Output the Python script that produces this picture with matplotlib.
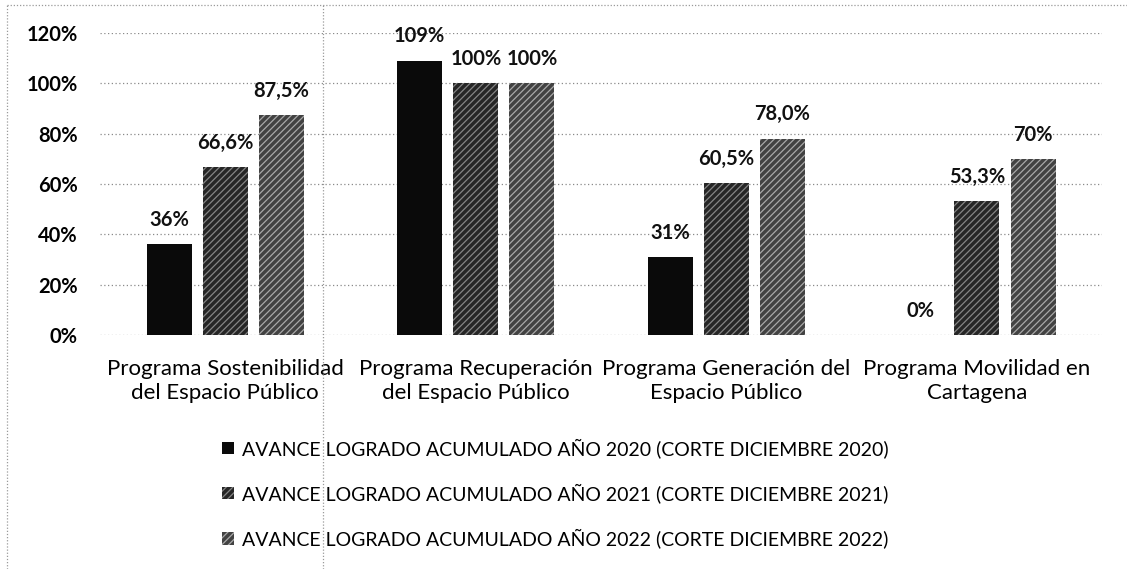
import matplotlib
matplotlib.use("Agg")
import matplotlib.pyplot as plt
from matplotlib.lines import Line2D
from matplotlib.ticker import FuncFormatter
import numpy as np

# ---------------------------------------------------------------------------
#  Data
# ---------------------------------------------------------------------------
programas = [
    "Programa Sostenibilidad\ndel Espacio Público",
    "Programa Recuperación\ndel Espacio Público",
    "Programa Generación del\nEspacio Público",
    "Programa Movilidad en\nCartagena",
]
avance_2020 = [36, 109, 31, 0]
avance_2021 = [66.6, 100, 60.5, 53.3]
avance_2022 = [87.5, 100, 78.0, 70]
etiquetas_2020 = ["36%", "109%", "31%", "0%"]
etiquetas_2021 = ["66,6%", "100%", "60,5%", "53,3%"]
etiquetas_2022 = ["87,5%", "100%", "78,0%", "70%"]
series_nombres = [
    "AVANCE LOGRADO ACUMULADO AÑO 2020 (CORTE DICIEMBRE 2020)",
    "AVANCE LOGRADO ACUMULADO AÑO 2021 (CORTE DICIEMBRE 2021)",
    "AVANCE LOGRADO ACUMULADO AÑO 2022 (CORTE DICIEMBRE 2022)",
]
y_ticks = [0, 20, 40, 60, 80, 100, 120]

# ---------------------------------------------------------------------------
#  Figure
# ---------------------------------------------------------------------------
plt.rcParams["font.family"] = ["Lato", "DejaVu Sans"]
plt.rcParams["hatch.linewidth"] = 0.9

fig = plt.figure(figsize=(11.27, 5.69), dpi=100)
ax = fig.add_axes([0.0887, 0.411, 0.8893, 0.531])

x = np.arange(len(programas))
width = 0.18
step = 0.224

estilos = [
    dict(color="#0a0a0a", edgecolor="#0a0a0a", hatch=None),
    dict(color="#262626", edgecolor="#858585", hatch="/////"),
    dict(color="#424242", edgecolor="#a8a8a8", hatch="/////"),
]
valores = [avance_2020, avance_2021, avance_2022]
etiquetas = [etiquetas_2020, etiquetas_2021, etiquetas_2022]

handles = []
for i, (vals, labs, est, nombre) in enumerate(zip(valores, etiquetas, estilos, series_nombres)):
    bars = ax.bar(x + (i - 1) * step, vals, width, color=est["color"],
                  edgecolor=est["edgecolor"], hatch=est["hatch"], linewidth=0,
                  label=nombre, zorder=3)
    handles.append(bars)
    for b, v, t in zip(bars, vals, labs):
        ax.annotate(t, (b.get_x() + b.get_width() / 2, v), xytext=(0, 17.5),
                    textcoords="offset points", ha="center", va="center",
                    fontsize=14.5, fontweight="bold", color="#111111", zorder=4)

ax.set_xlim(-0.5, 3.5)
ax.set_ylim(0, 120)
ax.set_yticks(y_ticks)
ax.yaxis.set_major_formatter(FuncFormatter(lambda v, _: f"{v:.0f}%"))
ax.grid(axis="y", color="#8a8a8a", linestyle=(0, (1, 2)), linewidth=0.9, zorder=0)
ax.set_axisbelow(True)
for s in ax.spines.values():
    s.set_visible(False)
ax.tick_params(axis="y", length=0, pad=16, labelsize=14.5)
for lab in ax.get_yticklabels():
    lab.set_fontweight("bold")
ax.set_xticks(x)
ax.set_xticklabels(programas, fontsize=16, linespacing=1.25)
ax.tick_params(axis="x", length=0, pad=17)

leg = fig.legend(handles=handles, loc="upper left", bbox_to_anchor=(0.190, 0.244),
                 frameon=False, fontsize=14, handlelength=0.6, handleheight=0.6,
                 handletextpad=0.45, labelspacing=1.3, borderaxespad=0)

# dotted page frame lines
linea = dict(color="#9a9a9a", linestyle=(0, (1, 1.5)), linewidth=0.9)
fig.add_artist(Line2D([0.0062, 0.0062], [0.0, 0.991], transform=fig.transFigure, **linea))
fig.add_artist(Line2D([0.0062, 1.0], [0.991, 0.991], transform=fig.transFigure, **linea))
fig.add_artist(Line2D([0.2866, 0.2866], [0.0, 0.991], transform=fig.transFigure, **linea))

fig.savefig("out.png", dpi=100)
